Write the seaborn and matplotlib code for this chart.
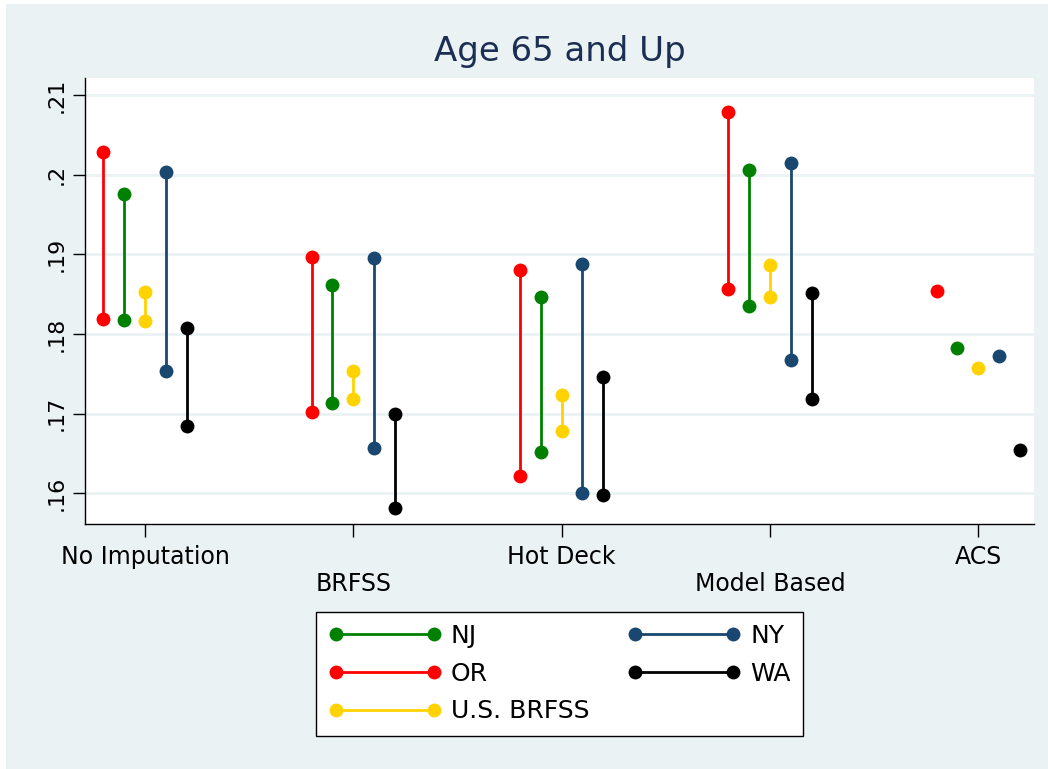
import numpy as np
import pandas as pd
import matplotlib
matplotlib.use("Agg")
import matplotlib.pyplot as plt
from matplotlib.lines import Line2D
from matplotlib.patches import Rectangle
import seaborn as sns

# ---------------- data ----------------
methods = ["No Imputation", "BRFSS", "Hot Deck", "Model Based", "ACS"]
series = ["OR", "NJ", "U.S. BRFSS", "NY", "WA"]  # left-to-right order within group

or_hi = [0.2028, 0.1897, 0.1880, 0.2078]
or_lo = [0.1819, 0.1702, 0.1622, 0.1856]
nj_hi = [0.1976, 0.1862, 0.1847, 0.2006]
nj_lo = [0.1818, 0.1713, 0.1652, 0.1835]
us_hi = [0.1853, 0.1753, 0.1724, 0.1886]
us_lo = [0.1816, 0.1718, 0.1678, 0.1847]
ny_hi = [0.2003, 0.1895, 0.1888, 0.2014]
ny_lo = [0.1753, 0.1657, 0.1601, 0.1767]
wa_hi = [0.1808, 0.1699, 0.1746, 0.1851]
wa_lo = [0.1684, 0.1582, 0.1598, 0.1718]
acs_vals = [0.1854, 0.1782, 0.1757, 0.1772, 0.1655]  # OR, NJ, US, NY, WA

yticks = [0.16, 0.17, 0.18, 0.19, 0.20, 0.21]
ytick_labels = [".16", ".17", ".18", ".19", ".2", ".21"]

colors = {"OR": "#FF0000", "NJ": "#008000", "U.S. BRFSS": "#FFD200",
          "NY": "#1A476F", "WA": "#000000"}

# ---------------- long form table ----------------
hi = {"OR": or_hi, "NJ": nj_hi, "U.S. BRFSS": us_hi, "NY": ny_hi, "WA": wa_hi}
lo = {"OR": or_lo, "NJ": nj_lo, "U.S. BRFSS": us_lo, "NY": ny_lo, "WA": wa_lo}
step = 0.1
rows = []
uid = 0
for si, s in enumerate(series):
    off = (si - 2) * step
    for mi, m in enumerate(methods[:4]):
        rows.append(dict(series=s, unit=uid, x=mi + off, value=hi[s][mi]))
        rows.append(dict(series=s, unit=uid, x=mi + off, value=lo[s][mi]))
        uid += 1
    rows.append(dict(series=s, unit=uid, x=4 + off, value=acs_vals[si]))
    uid += 1
df = pd.DataFrame(rows)

# ---------------- figure ----------------
sns.set_theme(style="white")
plt.rcParams["font.family"] = ["DejaVu Sans"]
plt.rcParams["text.color"] = "black"

W, H = 1048, 769
fig = plt.figure(figsize=(W / 100, H / 100), dpi=100, facecolor="white")
fig.patches.append(Rectangle((6 / W, 0), 1, (H - 4) / H, transform=fig.transFigure,
                             facecolor="#EAF2F3", edgecolor="none", zorder=-10))

ax = fig.add_axes([85 / W, 1 - 524 / H, (1034 - 85) / W, (524 - 78) / H])
ax.set_facecolor("white")

sns.lineplot(data=df, x="x", y="value", hue="series", units="unit",
             estimator=None, palette=colors, marker="o", markersize=10,
             markeredgewidth=0, linewidth=2.0, legend=False, ax=ax, sort=False)

ax.set_xlim(-0.288, 4.268)
ax.set_ylim(0.15615, 0.21213)
ax.set_yticks(yticks)
ax.set_yticklabels(ytick_labels, rotation=90, va="center", fontsize=16)
ax.set_xticks(range(len(methods)))
ax.set_xticklabels(methods, fontsize=17)
for i, lab in enumerate(ax.get_xticklabels()):
    if i % 2 == 1:
        lab.set_y(-0.06)
ax.tick_params(axis="both", which="both", direction="out", length=9, width=1,
               color="black", labelcolor="black", pad=6)
ax.tick_params(axis="y", pad=4, left=True)
ax.tick_params(axis="x", bottom=True)
ax.set_xlabel("")
ax.set_ylabel("")
ax.grid(axis="y", color="#EAF2F3", linewidth=2.0)
ax.grid(axis="x", visible=False)
ax.set_axisbelow(True)
for side in ["top", "right"]:
    ax.spines[side].set_visible(False)
for side in ["left", "bottom"]:
    ax.spines[side].set_visible(True)
    ax.spines[side].set_color("black")
    ax.spines[side].set_linewidth(1.0)

fig.text(560 / W, 1 - 52 / H, "Age 65 and Up", ha="center", va="center",
         fontsize=24.5, color="#1C2E54")

# legend (order: NJ, NY / OR, WA / U.S. BRFSS -> column-major input)
leg_order = ["NJ", "OR", "U.S. BRFSS", "NY", "WA"]
handles = [Line2D([0], [0], color=colors[s], marker="o", markersize=10,
                  markeredgewidth=0, linewidth=2.0) for s in leg_order]
leg = fig.legend(handles, leg_order, loc="upper center",
                 bbox_to_anchor=(559.5 / W, 1 - 612 / H), ncol=2, numpoints=2,
                 fontsize=18, labelcolor="black", frameon=True, fancybox=False,
                 framealpha=1, edgecolor="black", handlelength=4.52,
                 handletextpad=0.38, columnspacing=1.55, labelspacing=0.55,
                 borderpad=0.48, borderaxespad=0)
leg.get_frame().set_linewidth(1.0)

fig.savefig("out.png", dpi=100, facecolor=fig.get_facecolor())
